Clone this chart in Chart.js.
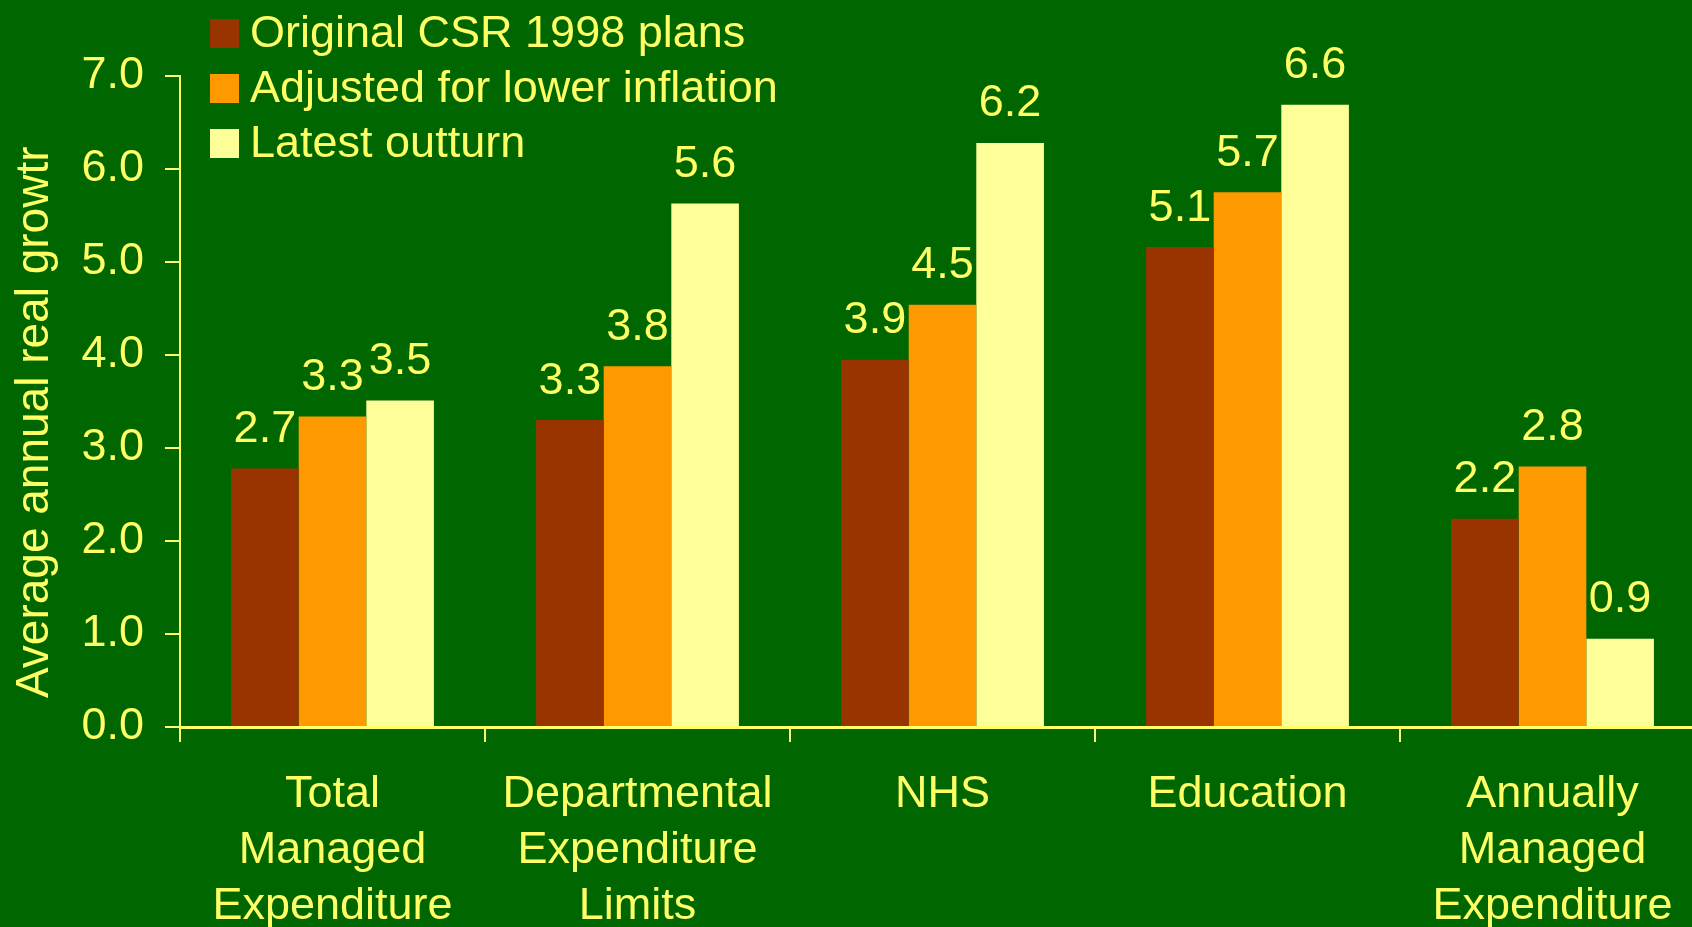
<!DOCTYPE html>
<html>
<head>
<meta charset="utf-8">
<script src="https://cdn.jsdelivr.net/npm/chart.js@4"></script>
<style>
    html, body { margin: 0; padding: 0; overflow: hidden; background: #006600; }
    #wrap { width: 1692px; height: 927px; overflow: hidden; }
</style>
</head>
<body>
<div id="wrap"><canvas id="csrChart" width="1705" height="927"></canvas></div>
<script>
// Chart data
const categories = [
    ['Total', 'Managed', 'Expenditure'],
    ['Departmental', 'Expenditure', 'Limits'],
    ['NHS'],
    ['Education'],
    ['Annually', 'Managed', 'Expenditure']
];
const seriesNames = ['Original CSR 1998 plans', 'Adjusted for lower inflation', 'Latest outturn'];
const originalPlans = [2.78, 3.30, 3.95, 5.16, 2.24];
const adjustedInflation = [3.34, 3.88, 4.54, 5.75, 2.80];
const latestOutturn = [3.51, 5.63, 6.28, 6.69, 0.95];
const yTicks = [0, 1, 2, 3, 4, 5, 6, 7];
const yTitle = 'Average annual real growtr';

const seriesColors = ['#993300', '#ff9900', '#ffff99'];
const textColor = '#ffff66';
const fontFamily = '"Liberation Sans", Arial, sans-serif';

// value labels above each bar (truncated to one decimal, as in the source)
const barLabels = {
    id: 'barLabels',
    afterDatasetsDraw(chart) {
        const ctx = chart.ctx;
        ctx.save();
        ctx.fillStyle = textColor;
        ctx.font = '45px ' + fontFamily;
        ctx.textAlign = 'center';
        ctx.textBaseline = 'middle';
        chart.data.datasets.forEach((ds, i) => {
            chart.getDatasetMeta(i).data.forEach((bar, j) => {
                const txt = (Math.floor(ds.data[j] * 10 + 1e-6) / 10).toFixed(1);
                ctx.fillText(txt, bar.x, bar.y - 39);
            });
        });
        ctx.restore();
    }
};

// legend drawn inside the top of the plot, and the rotated y title
const overlay = {
    id: 'overlay',
    afterDraw(chart) {
        const ctx = chart.ctx;
        ctx.save();
        ctx.font = '45px ' + fontFamily;
        ctx.textBaseline = 'middle';
        chart.data.datasets.forEach((ds, i) => {
            const y = 33 + i * 55;
            ctx.fillStyle = ds.backgroundColor;
            ctx.fillRect(210, y - 14, 29, 29);
            ctx.fillStyle = textColor;
            ctx.fillText(ds.label, 250, y + 2);
        });

        ctx.translate(48, 698);
        ctx.rotate(-Math.PI / 2);
        ctx.font = '46px ' + fontFamily;
        ctx.textAlign = 'left';
        ctx.textBaseline = 'alphabetic';
        ctx.fillText(yTitle, 0, 0);
        ctx.restore();
    }
};

const ctx = document.getElementById('csrChart').getContext('2d');
new Chart(ctx, {
    type: 'bar',
    data: {
        labels: categories,
        datasets: [
            { label: seriesNames[0], data: originalPlans, backgroundColor: seriesColors[0] },
            { label: seriesNames[1], data: adjustedInflation, backgroundColor: seriesColors[1] },
            { label: seriesNames[2], data: latestOutturn, backgroundColor: seriesColors[2] }
        ]
    },
    options: {
        responsive: false,
        animation: false,
        devicePixelRatio: 1,
        layout: { padding: { top: 76, left: 0, right: 0, bottom: 0 } },
        datasets: {
            bar: { barPercentage: 1, categoryPercentage: 0.665, borderWidth: 0 }
        },
        plugins: {
            legend: { display: false },
            tooltip: { enabled: false }
        },
        scales: {
            x: {
                offset: true,
                grid: {
                    offset: true,
                    drawOnChartArea: false,
                    tickLength: 15,
                    color: textColor,
                    lineWidth: 2
                },
                border: { color: textColor, width: 3 },
                ticks: {
                    color: textColor,
                    font: { family: fontFamily, size: 45, lineHeight: 1.25 },
                    padding: 24,
                    maxRotation: 0,
                    autoSkip: false
                },
                afterFit(scale) { scale.height = 200; }
            },
            y: {
                min: 0,
                max: 7,
                afterBuildTicks(scale) { scale.ticks = yTicks.map(v => ({ value: v })); },
                grid: {
                    drawOnChartArea: false,
                    tickLength: 15,
                    color: textColor,
                    lineWidth: 2
                },
                border: { color: textColor, width: 2 },
                ticks: {
                    color: textColor,
                    font: { family: fontFamily, size: 45 },
                    padding: 21,
                    callback: v => v.toFixed(1)
                },
                afterFit(scale) { scale.width = 180; }
            }
        }
    },
    plugins: [barLabels, overlay]
});
</script>
</body>
</html>
